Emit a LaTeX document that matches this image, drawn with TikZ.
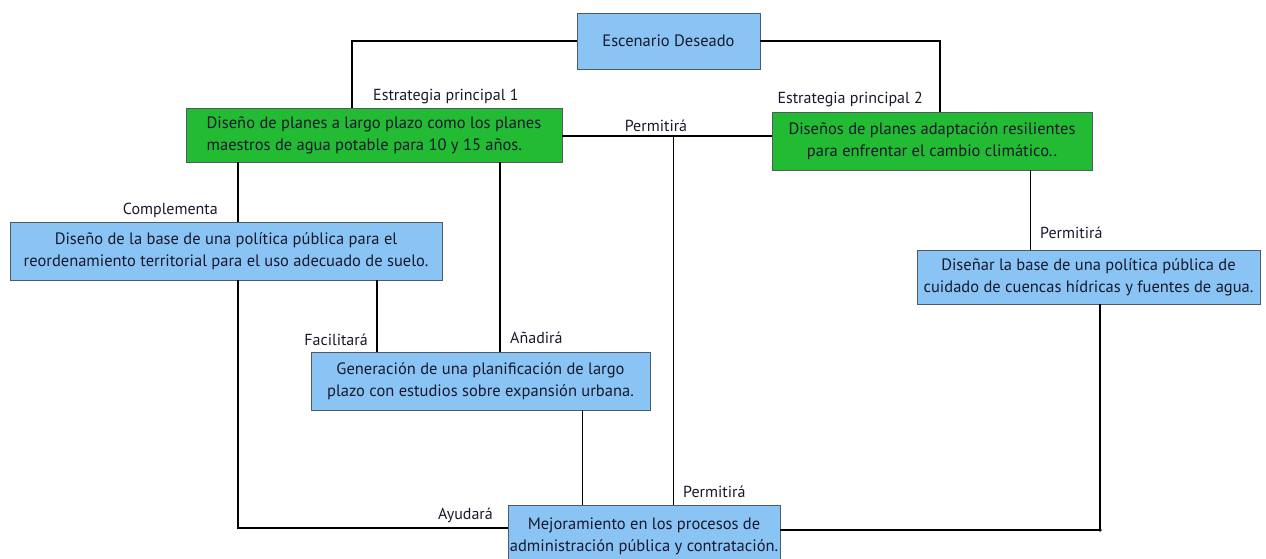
\documentclass[tikz,border=0pt]{standalone}
\usepackage{fontspec}
\setmainfont{PT Sans}
\definecolor{celeste}{RGB}{137,196,244}
\definecolor{verde}{RGB}{34,187,51}
\definecolor{borde}{RGB}{80,90,100}
\definecolor{tinta}{RGB}{25,25,45}
\begin{document}
\begin{tikzpicture}[
    x=1pt, y=-1pt,
    caja/.style={rectangle, draw=borde, line width=0.8pt, fill=celeste, inner sep=0pt, align=center, text=tinta, font=\fontsize{16.5}{22}\selectfont},
    estrat/.style={caja, fill=verde},
    etiq/.style={font=\fontsize{16}{18}\selectfont, inner sep=0pt, text=tinta},
    linea/.style={line width=1.6pt},
    fino/.style={line width=1pt},
    grueso/.style={line width=2.6pt}
]
\useasboundingbox (0,0) rectangle (1266,559);

% Escenario
\node[caja, minimum width=183pt, minimum height=56pt] (esc) at (668.5,41) {Escenario Deseado};

% Estrategias
\node[estrat, minimum width=376pt, minimum height=54pt, align=left] (est1) at (374,135)
  {Diseño de planes a largo plazo como los planes\\maestros de agua potable para 10 y 15 años.};
\node[estrat, minimum width=320pt, minimum height=58pt] (est2) at (932,141)
  {Diseños de planes adaptación resilientes\\para enfrentar el cambio climático..};

% Acciones
\node[caja, minimum width=432pt, minimum height=58pt] (comp) at (226,251)
  {Diseño de la base de una política pública para el\\reordenamiento territorial para el uso adecuado de suelo.};
\node[caja, minimum width=339pt, minimum height=58pt] (gen) at (480.5,381)
  {Generación de una planificación de largo\\plazo con estudios sobre expansión urbana.};
\node[caja, minimum width=343pt, minimum height=54pt] (cue) at (1088.5,277)
  {Diseñar la base de una política pública de\\cuidado de cuencas hídricas y fuentes de agua.};
\node[caja, minimum width=272pt, minimum height=62pt] (mej) at (644,536)
  {Mejoramiento en los procesos de\\administración pública y contratación.};

\coordinate (rama) at (673,136);

% Conectores
\draw[linea] (esc.west) -| (est1.north -| 352,0);
\draw[linea] (esc.east) -| (est2.north -| 940,0);
\draw[linea] (est1.east |- rama) -- (est2.west |- rama);
\draw[fino] (rama) -- (rama |- mej.north);
\draw[linea] (est1.south -| 238,0) -- (comp.north -| 238,0);
\draw[linea] (est1.south -| 500,0) -- (gen.north -| 500,0);
\draw[linea] (comp.south -| 238,0) |- ([yshift=8pt]mej.west);
\draw[linea] (comp.south -| 377,0) -- (gen.north -| 377,0);
\draw[fino] (gen.south -| 582,0) -- (mej.north -| 582,0);
\draw[fino] (est2.south -| 1030,0) -- (cue.north -| 1030,0);
\draw[grueso] (cue.south -| 1100,0) |- ([yshift=6pt]mej.east);
\fill (1100,530) circle (1.8pt);

% Etiquetas
\node[etiq, anchor=west] (e1) at (373,97) {Estrategia principal 1};
\node[etiq, anchor=east] (e2) at (923,100) {Estrategia principal 2};
\node[etiq] (p1) at (656,126) {Permitirá};
\node[etiq, anchor=east] (c1) at (218,210) {Complementa};
\node[etiq, anchor=east] (f1) at (368,340) {Facilitará};
\node[etiq, anchor=west] (a1) at (510,338) {Añadirá};
\node[etiq, anchor=east] (a2) at (493,515) {Ayudará};
\node[etiq, anchor=west] (p2) at (683,492) {Permitirá};
\node[etiq, anchor=west] (p3) at (1040,233) {Permitirá};
\end{tikzpicture}
\end{document}
